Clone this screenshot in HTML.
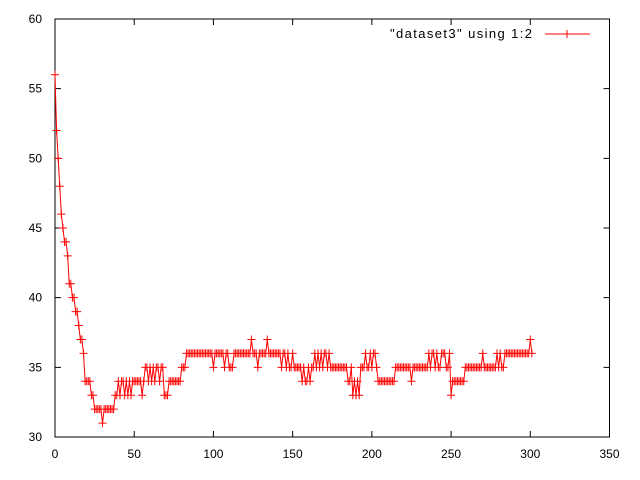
<!DOCTYPE html>
<html><head><meta charset="utf-8"><style>
html,body{margin:0;padding:0;background:#fff;}
svg{display:block;font-family:"Liberation Sans",sans-serif;font-size:12px;}
</style></head><body>
<svg id="chart" width="640" height="480" xmlns="http://www.w3.org/2000/svg">
<rect width="640" height="480" fill="#fff"/>
<g id="axes"></g>
<g id="series"></g>
<g id="legend">
<text x="390" y="38" font-size="13" textLength="142" lengthAdjust="spacing">"dataset3" using 1:2</text>
<line x1="545" y1="34" x2="590" y2="34" stroke="#f00" stroke-width="1"/>
<path d="M563,34h8M567,30v8" stroke="#f00" stroke-width="1"/>
</g>
</svg>
<script>
const xTicks=[0,50,100,150,200,250,300,350];
const yTicks=[30,35,40,45,50,55,60];
const yValues=[56,52,50,48,46,45,44,44,43,41,
41,40,40,39,39,38,37,37,36,34,
34,34,34,33,33,32,32,32,32,32,
31,32,32,32,32,32,32,32,33,33,
34,33,34,34,33,34,33,34,33,34,
34,34,34,34,34,33,34,35,35,34,
35,34,35,34,35,35,34,35,35,33,
33,33,34,34,34,34,34,34,34,34,
35,35,35,36,36,36,36,36,36,36,
36,36,36,36,36,36,36,36,36,36,
35,36,36,36,36,36,36,35,36,36,
35,35,35,36,36,36,36,36,36,36,
36,36,36,36,37,36,36,36,35,36,
36,36,36,36,37,36,36,36,36,36,
36,36,36,35,36,36,35,36,35,35,
36,35,35,35,35,35,34,35,34,34,
35,34,35,35,36,35,36,35,36,35,
36,36,35,36,35,35,35,35,35,35,
35,35,35,35,35,34,34,35,33,34,
33,34,33,35,35,35,36,35,35,36,
35,36,36,35,34,34,34,34,34,34,
34,34,34,34,34,35,35,35,35,35,
35,35,35,35,35,34,35,35,35,35,
35,35,35,35,35,35,36,35,36,36,
35,36,35,35,36,36,36,35,35,36,
33,34,34,34,34,34,34,34,34,35,
35,35,35,35,35,35,35,35,35,35,
36,35,35,35,35,35,35,35,35,36,
35,36,35,35,36,36,36,36,36,36,
36,36,36,36,36,36,36,36,36,36,
37,36];
const L=55,R=609.5,T=19,B=437;
const xMin=0,xMax=350,yMin=30,yMax=60;
function sx(v){return L+(v-xMin)/(xMax-xMin)*(R-L);}
function sy(v){return B-(v-yMin)/(yMax-yMin)*(B-T);}
const NS="http://www.w3.org/2000/svg";
const axes=document.getElementById('axes');
const ser=document.getElementById('series');
function mk(tag,attrs,parent){const e=document.createElementNS(NS,tag);for(const k in attrs)e.setAttribute(k,attrs[k]);parent.appendChild(e);return e;}
const frame=mk('rect',{x:L,y:T,width:R-L,height:B-T,fill:'none',stroke:'#000','stroke-width':1},axes);


xTicks.forEach(t=>{
  const x=sx(t);
  const p=mk('path',{d:`M${x},${B}v-6M${x},${T}v6`,stroke:'#000','stroke-width':1},axes);
  
  
  const tx=mk('text',{x:x,y:B+21,'text-anchor':'middle'},axes);
  tx.textContent=t;
  
  
});
yTicks.forEach(t=>{
  const y=sy(t);
  const p=mk('path',{d:`M${L},${y}h6M${R},${y}h-6`,stroke:'#000','stroke-width':1},axes);
  
  
  const tx=mk('text',{x:L-13,y:y+4,'text-anchor':'end'},axes);
  tx.textContent=t;
  
  
});
let d='';
yValues.forEach((v,i)=>{d+=(i?'L':'M')+sx(i).toFixed(2)+','+sy(v).toFixed(2);});
const line=mk('path',{d:d,fill:'none',stroke:'#f00','stroke-width':1},ser);


let md='';
yValues.forEach((v,i)=>{const x=sx(i),y=sy(v);md+=`M${(x-4).toFixed(2)},${y.toFixed(2)}h8M${x.toFixed(2)},${(y-4).toFixed(2)}v8`;});
const marks=mk('path',{d:md,fill:'none',stroke:'#f00','stroke-width':1},ser);


</script>
</body></html>
